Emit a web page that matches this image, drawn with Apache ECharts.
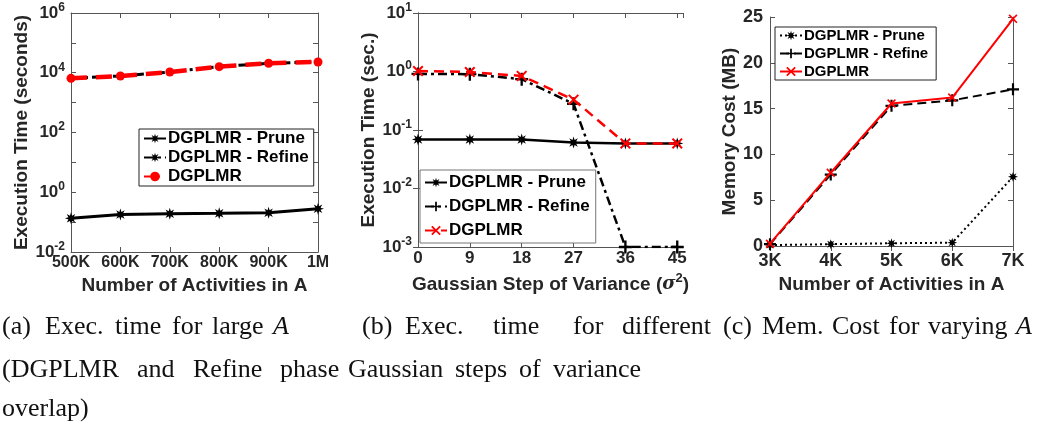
<!DOCTYPE html>
<html>
<head>
<meta charset="utf-8">
<script src="https://cdn.jsdelivr.net/npm/echarts@6/dist/echarts.min.js"></script>
<style>
html,body{margin:0;padding:0;background:#fff;}
#chart{width:1042px;height:426px;}
</style>
</head>
<body>
<div id="chart"></div>
<script>
// ---------- data ----------
const seriesNames = ['DGPLMR - Prune', 'DGPLMR - Refine', 'DGPLMR'];

// (a) execution time for large A (seconds, log scale)
const aCategories = ['500K', '600K', '700K', '800K', '900K', '1M'];
const aPrune  = [0.134, 0.18, 0.19, 0.197, 0.206, 0.28];
const aRefine = [6500, 7800, 10600, 16000, 20800, 23000];
const aTotal  = [6500, 7800, 10600, 16000, 20800, 23000];

// (b) execution time for Gaussian steps of variance (sec., log scale)
const bSteps  = [0, 9, 18, 27, 36, 45];
const bPrune  = [0.069, 0.069, 0.069, 0.061, 0.059, 0.059];
const bRefine = [0.91, 0.9, 0.74, 0.28, 0.001, 0.001];
const bTotal  = [1.02, 0.98, 0.84, 0.33, 0.059, 0.059];

// (c) memory cost (MB)
const cCategories = ['3K', '4K', '5K', '6K', '7K'];
const cPrune  = [0.1, 0.2, 0.3, 0.36, 7.56];
const cRefine = [0.2, 7.8, 15.3, 15.9, 17.1];
const cTotal  = [0.25, 8.0, 15.56, 16.2, 24.8];

// ---------- styling helpers ----------
const SANS = 'Liberation Sans';
const SERIF = 'Liberation Serif';
const TXT = '#262626';
const AXC = '#555';

function starPath(n, ro, ri) {
  let d = '';
  for (let i = 0; i < 2 * n; i++) {
    const r = i % 2 === 0 ? ro : ri;
    const a = Math.PI * i / n - Math.PI / 2;
    const x = (5 + r * Math.cos(a)).toFixed(3), y = (5 + r * Math.sin(a)).toFixed(3);
    d += (i === 0 ? 'M' : 'L') + x + ',' + y;
  }
  return 'path://' + d + 'Z';
}
const STAR = starPath(8, 5, 2.3);
const PLUS = 'path://M4.1,0H5.9V4.1H10V5.9H5.9V10H4.1V5.9H0V4.1H4.1Z';
const CROSS = 'path://M1.3,0L5,3.7L8.7,0L10,1.3L6.3,5L10,8.7L8.7,10L5,6.3L1.3,10L0,8.7L3.7,5L0,1.3Z';

const zw = k => '\u200B'.repeat(k);

function logLabel(v) {
  const e = Math.round(Math.log10(v));
  return '{b|10}{s|' + e + '}';
}
function logLabelEven(v) {
  const e = Math.round(Math.log10(v));
  return e % 2 === 0 ? '{b|10}{s|' + e + '}' : '';
}
const tickRich = (fs) => ({
  b: { fontFamily: SANS, fontWeight: 'bold', fontSize: fs, color: TXT },
  s: { fontFamily: SANS, fontWeight: 'bold', fontSize: Math.round(fs * 0.72), color: TXT, padding: [0, 0, 11, 0] }
});

function mainX(grid, cfg, fs, nameGap, name, nameRich, margin) {
  return Object.assign({
    gridIndex: grid, position: 'bottom', name: name, nameLocation: 'middle', nameGap: nameGap,
    nameTextStyle: { fontFamily: SANS, fontWeight: 'bold', fontSize: 19, color: TXT, rich: nameRich },
    axisLine: { show: true, lineStyle: { color: AXC, width: 1 } },
    axisTick: { show: true, inside: true, length: 5, lineStyle: { color: AXC } },
    axisLabel: { fontFamily: SANS, fontWeight: 'bold', fontSize: fs, color: TXT, margin: margin || 3, interval: 0 },
    splitLine: { show: false }
  }, cfg);
}
function mirrorX(grid, cfg) {
  return Object.assign({
    gridIndex: grid, position: 'top',
    axisLine: { show: true, lineStyle: { color: AXC, width: 1 } },
    axisTick: { show: true, inside: true, length: 5, lineStyle: { color: AXC }, interval: 0 },
    axisLabel: { show: false }, splitLine: { show: false }
  }, cfg);
}
function mainY(grid, cfg, fs, nameGap, name) {
  return Object.assign({
    gridIndex: grid, position: 'left', name: name, nameLocation: 'middle', nameGap: nameGap,
    nameTextStyle: { fontFamily: SANS, fontWeight: 'bold', fontSize: 19, color: TXT },
    axisLine: { show: true, lineStyle: { color: AXC, width: 1 } },
    axisTick: { show: true, inside: true, length: 5, lineStyle: { color: AXC } },
    axisLabel: { fontFamily: SANS, fontWeight: 'bold', fontSize: fs, color: TXT, margin: 7 },
    splitLine: { show: false }
  }, cfg);
}
function mirrorY(grid, cfg) {
  return Object.assign({
    gridIndex: grid, position: 'right',
    axisLine: { show: true, lineStyle: { color: AXC, width: 1 } },
    axisTick: { show: true, inside: true, length: 5, lineStyle: { color: AXC } },
    axisLabel: { show: false }, splitLine: { show: false }
  }, cfg);
}

function line(name, axis, data, color, width, type, symbol, size, z) {
  return {
    type: 'line', name: name, xAxisIndex: axis, yAxisIndex: axis, data: data,
    symbol: symbol, symbolSize: size, showSymbol: true, z: z,
    lineStyle: { color: color, width: width, type: type },
    itemStyle: { color: color, borderWidth: 0 },
    emphasis: { disabled: true }, animation: false
  };
}

function legend(k, left, top, fs, gap, borderColor, pad) {
  return {
    show: true, orient: 'vertical', left: left, top: top,
    data: seriesNames.map(n => n + zw(k)),
    formatter: n => n.replace(/\u200B/g, ''),
    itemWidth: 22, itemHeight: 12, itemGap: gap,
    padding: pad,
    borderColor: borderColor, borderWidth: 1, backgroundColor: '#fff',
    selectedMode: false,
    textStyle: { fontFamily: SANS, fontWeight: 'bold', fontSize: fs, color: '#000', padding: [0, 0, 0, -3] }
  };
}

// captions (text pieces with their left positions and line centres)
const captionPieces = [
  ['(a)', 2, 329], ['Exec.', 45, 329], ['time', 115, 329], ['for', 172, 329], ['large', 212, 329], ['A', 273, 329, 'italic'],
  ['(b)', 362, 329], ['Exec.', 405, 329], ['time', 493, 329], ['for', 573, 329], ['different', 622, 329],
  ['(c)', 723, 329], ['Mem.', 762, 329], ['Cost', 832, 329], ['for', 889, 329], ['varying', 928, 329], ['A', 1016, 329, 'italic'],
  ['(DGPLMR', 2, 372], ['and', 137, 372], ['Refine', 193, 372], ['phase', 280, 372],
  ['Gaussian', 348, 372], ['steps', 455, 372], ['of', 519, 372], ['variance', 553, 372],
  ['overlap)', 2, 411]
];

const option = {
  backgroundColor: '#fff',
  animation: false,
  grid: [
    { left: 71, top: 13, width: 247, height: 239, containLabel: false },
    { left: 418, top: 13, width: 265, height: 234, containLabel: false },
    { left: 770, top: 17, width: 243, height: 229, containLabel: false }
  ],
  xAxis: [
    mainX(0, { type: 'category', data: aCategories, boundaryGap: false }, 16, 22, 'Number of Activities in A'),
    mirrorX(0, { type: 'category', data: aCategories, boundaryGap: false }),
    mainX(1, { type: 'value', min: 0, max: 46, interval: 9, axisLabel: { fontFamily: SANS, fontWeight: 'bold', fontSize: 17, color: TXT, margin: 3, showMaxLabel: false } }, 17, 25,
      'Gaussian Step of Variance ({i|σ}{sup|2})',
      { i: { fontFamily: 'DejaVu Serif', fontStyle: 'italic', fontSize: 18, color: TXT },
        sup: { fontFamily: SANS, fontWeight: 'bold', fontSize: 13, color: TXT, padding: [0, 0, 12, 0] } }),
    mirrorX(1, { type: 'value', min: 0, max: 46, interval: 9 }),
    mainX(2, { type: 'category', data: cCategories, boundaryGap: false }, 18, 25, 'Number of Activities in A', undefined, 6),
    mirrorX(2, { type: 'category', data: cCategories, boundaryGap: false })
  ],
  yAxis: [
    mainY(0, { type: 'log', logBase: 10, min: 0.01, max: 1e6, axisLabel: { formatter: logLabelEven, rich: tickRich(17), margin: 6 } }, 17, 40, 'Execution Time (seconds)'),
    mirrorY(0, { type: 'log', logBase: 10, min: 0.01, max: 1e6 }),
    mainY(1, { type: 'log', logBase: 10, min: 0.001, max: 10, axisLabel: { formatter: logLabel, rich: tickRich(17), margin: 6 } }, 17, 40, 'Execution Time (sec.)'),
    mirrorY(1, { type: 'log', logBase: 10, min: 0.001, max: 10 }),
    mainY(2, { type: 'value', min: 0, max: 25, interval: 5 }, 18, 28, 'Memory Cost (MB)'),
    mirrorY(2, { type: 'value', min: 0, max: 25, interval: 5 })
  ],
  legend: [
    legend(0, 139, 129, 17, 2, '#222', [1, 5, 1, 4]),
    legend(1, 420, 170, 17, 7, '#777', [4, 6, 4, 4]),
    legend(2, 775, 27, 15, 3, '#222', [1, 8, 1, 4])
  ],
  series: [
    // panel a
    line(seriesNames[0] + zw(0), 0, aPrune, '#000', 3, 'solid', STAR, 12, 3),
    line(seriesNames[1] + zw(0), 0, aRefine, '#000', 3, [10, 4, 3, 4], STAR, 7, 3),
    line(seriesNames[2] + zw(0), 0, aTotal, '#ff0000', 4.5, [16, 9], 'circle', 9, 4),
    // panel b
    line(seriesNames[0] + zw(1), 2, bSteps.map((s, i) => [s, bPrune[i]]), '#000', 2.5, 'solid', STAR, 12, 3),
    line(seriesNames[1] + zw(1), 2, bSteps.map((s, i) => [s, bRefine[i]]), '#000', 2.5, [9, 4, 3, 4], PLUS, 13, 3),
    line(seriesNames[2] + zw(1), 2, bSteps.map((s, i) => [s, bTotal[i]]), '#ff0000', 2.5, [10, 6], CROSS, 11, 4),
    // panel c
    line(seriesNames[0] + zw(2), 4, cPrune, '#000', 2, [2, 3], STAR, 10, 3),
    line(seriesNames[1] + zw(2), 4, cRefine, '#000', 2, [9, 5], PLUS, 12, 3),
    line(seriesNames[2] + zw(2), 4, cTotal, '#ff0000', 2, 'solid', CROSS, 9, 4)
  ],
  graphic: captionPieces.map(p => ({
    type: 'text', left: p[1], top: p[2] - 15, silent: true,
    style: { text: p[0], fontFamily: SERIF, fontSize: 26, fontStyle: p[3] || 'normal', fill: '#111' }
  }))
};

const chart = echarts.init(document.getElementById('chart'), null, { renderer: 'canvas' });
chart.setOption(option);
</script>
</body>
</html>
